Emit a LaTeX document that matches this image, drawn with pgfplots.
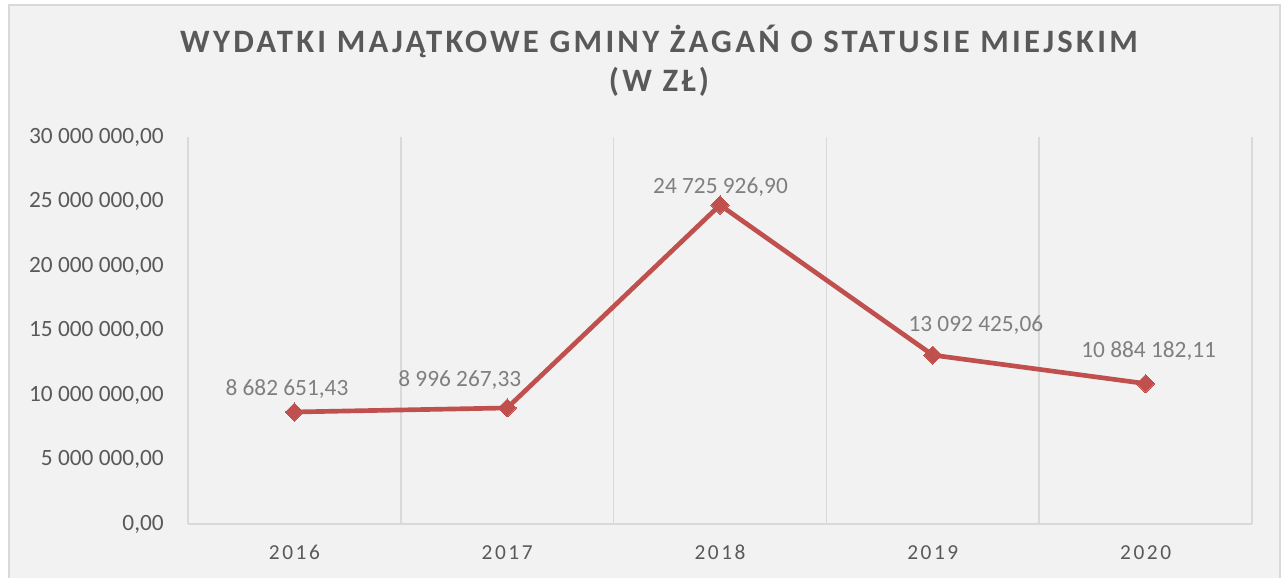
\documentclass[border=0pt]{standalone}
\usepackage{fontspec}
\setmainfont{Carlito}
\newfontfamily\spacedfont[LetterSpace=12]{Carlito}
\newfontfamily\titlefont[LetterSpace=10]{Carlito}
\usepackage{pgfplots}
\pgfplotsset{compat=1.18}

\definecolor{chartbg}{HTML}{F2F2F2}
\definecolor{framegray}{HTML}{D9D9D9}
\definecolor{gridgray}{HTML}{D9D9D9}
\definecolor{textgray}{HTML}{595959}
\definecolor{labelgray}{HTML}{7F7F7F}
\definecolor{linered}{HTML}{C0504D}

% one data label, shifted from its marker (shift in pt)
\pgfplotsset{
  datalabel/.style 2 args={
    draw=none, mark=none, forget plot,
    point meta=explicit symbolic,
    nodes near coords,
    every node near coord/.append style={anchor=center, inner sep=0pt,
      xshift=#1, yshift=#2, text=labelgray,
      font=\fontsize{17.5}{21}\selectfont},
  },
}

\begin{document}
\begin{tikzpicture}[x=0.75pt,y=0.75pt]
  \path[use as bounding box, fill=white] (0,0) rectangle (1282,578);
  \draw[fill=chartbg, draw=framegray, line width=1.2pt] (9,-10) rectangle (1280,573);

  \node[anchor=base, text=textgray, inner sep=0pt]
    at (659,525.7) {\titlefont\bfseries\fontsize{24.5}{29}\selectfont WYDATKI MAJĄTKOWE GMINY ŻAGAŃ O STATUSIE MIEJSKIM};
  \node[anchor=base, text=textgray, inner sep=0pt]
    at (659,486.3) {\titlefont\bfseries\fontsize{24.5}{29}\selectfont (W ZŁ)};

  \begin{axis}[
      at={(141pt,40.5pt)}, anchor=south west,
      scale only axis,
      width=798pt, height=290.25pt,
      xmin=-0.5, xmax=4.5,
      ymin=0, ymax=30000000,
      scaled y ticks=false,
      clip=false,
      axis line style={draw=none},
      major tick length=0pt,
      xtick={0,1,2,3,4},
      xticklabels={2016,2017,2018,2019,2020},
      ytick={0,5000000,10000000,15000000,20000000,25000000,30000000},
      yticklabels={{0,00},{5 000 000,00},{10 000 000,00},{15 000 000,00},{20 000 000,00},{25 000 000,00},{30 000 000,00}},
      xticklabel style={anchor=north, inner sep=0pt, yshift=-15.75pt, text=textgray,
        font=\spacedfont\fontsize{16}{19}\selectfont},
      yticklabel style={anchor=east, inner sep=0pt, xshift=-18pt, text=textgray,
        font=\fontsize{17.5}{21}\selectfont},
      extra x ticks={-0.5,0.5,1.5,2.5,3.5,4.5},
      extra x tick labels={},
      extra x tick style={grid=major},
      extra y ticks={0},
      extra y tick labels={},
      extra y tick style={grid=major},
      major grid style={draw=gridgray, line width=1.1pt},
    ]
    \addplot[
        color=linered, line width=3.5pt,
        mark=square*, mark size=4.8pt,
        mark options={rotate=45, fill=linered, draw=linered, line width=0pt},
      ] coordinates {
        (0,8682651.43) (1,8996267.33) (2,24725926.90) (3,13092425.06) (4,10884182.11)
      };
    % data labels, each placed as in the reference
    \addplot[datalabel={-5.6pt}{17.3pt}]  coordinates {(0,8682651.43)  [8 682 651,43]};
    \addplot[datalabel={-35.6pt}{21pt}]   coordinates {(1,8996267.33)  [8 996 267,33]};
    \addplot[datalabel={0.4pt}{13.1pt}]   coordinates {(2,24725926.90) [24 725 926,90]};
    \addplot[datalabel={32.3pt}{22.5pt}]  coordinates {(3,13092425.06) [13 092 425,06]};
    \addplot[datalabel={2.3pt}{24.8pt}]   coordinates {(4,10884182.11) [10 884 182,11]};
  \end{axis}
\end{tikzpicture}
\end{document}
